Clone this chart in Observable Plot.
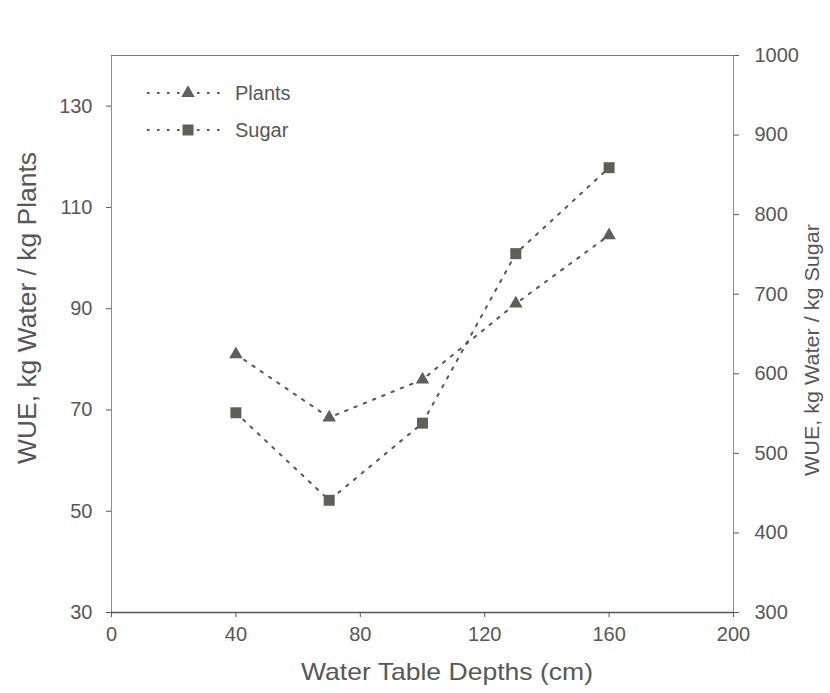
<!DOCTYPE html>
<html><head><meta charset="utf-8">
<script src="https://cdn.jsdelivr.net/npm/d3@7"></script>
<script src="https://cdn.jsdelivr.net/npm/@observablehq/plot@0.6"></script>
<style>
body{margin:0;background:#fff;}
</style></head><body><div id="chart"></div>
<script>
// ---- data ----
const depths = [40, 70, 100, 130, 160];
const plants = [81, 68.5, 76, 91, 104.5];
const sugar = [551, 441, 538, 751, 859];
const xTicks = [0, 40, 80, 120, 160, 200];
const leftTicks = [30, 50, 70, 90, 110, 130];
const rightTicks = [300, 400, 500, 600, 700, 800, 900, 1000];
const xDomain = [0, 200];
const leftDomain = [30, 140];
const rightDomain = [300, 1000];
const seriesNames = ["Plants", "Sugar"];
const xTitle = "Water Table Depths (cm)";
const leftTitle = "WUE, kg Water / kg Plants";
const rightTitle = "WUE, kg Water / kg Sugar";

// map right-axis values onto the left (primary) y scale
const toLeft = d3.scaleLinear(rightDomain, leftDomain);
const plantsData = depths.map((x, i) => ({x, y: plants[i]}));
const sugarData = depths.map((x, i) => ({x, y: toLeft(sugar[i])}));

const ink = "#575757";
const markerFill = "#5f5f58";
const dash = "2.5,7.5";
const triR = 5.0, sqR = 6.2;
const font = "'Liberation Sans', Arial, sans-serif";

const chart = Plot.plot({
  width: 830, height: 693,
  marginLeft: 111, marginRight: 97, marginTop: 55, marginBottom: 81,
  style: {fontFamily: font, fontSize: "20px", color: ink, background: "#fff"},
  x: {domain: xDomain},
  y: {domain: leftDomain},
  marks: [
    Plot.frame({stroke: "#8c8c8c", strokeWidth: 1}),
    Plot.ruleY([leftDomain[1]], {stroke: "#777", strokeWidth: 1.2}),
    Plot.ruleY([leftDomain[0]], {stroke: "#555", strokeWidth: 1.6}),
    Plot.axisX(xTicks, {tickSize: 5, tickPadding: 9, label: null, stroke: ink, fill: ink, fontSize: 20}),
    Plot.axisY(leftTicks, {anchor: "left", tickSize: 5, tickPadding: 14, label: null, stroke: ink, fill: ink, fontSize: 20}),
    Plot.axisY(rightTicks.map(toLeft), {anchor: "right", tickSize: 5, tickPadding: 16, label: null, stroke: ink, fill: ink, fontSize: 20,
      tickFormat: d => String(Math.round(toLeft.invert(d)))}),
    Plot.line(plantsData, {x: "x", y: "y", stroke: ink, strokeWidth: 2, strokeDasharray: dash}),
    Plot.line(sugarData, {x: "x", y: "y", stroke: ink, strokeWidth: 2, strokeDasharray: dash}),
    Plot.dot(plantsData, {x: "x", y: "y", symbol: "triangle", r: triR, fill: markerFill, stroke: "none"}),
    Plot.dot(sugarData, {x: "x", y: "y", symbol: "square", r: sqR, fill: markerFill, stroke: "none"})
  ]
});

const svg = d3.select(chart);

// ---- axis titles ----
function title(txt, x, y, rot, size, len) {
  const t = svg.append("text")
    .attr("transform", `translate(${x},${y}) rotate(${rot})`)
    .attr("text-anchor", "middle").attr("dy", "0.35em")
    .attr("fill", ink).attr("font-family", font).attr("font-size", size)
    .text(txt);
  if (len) t.attr("textLength", len).attr("lengthAdjust", "spacingAndGlyphs");
}
title(xTitle, 447, 672, 0, 24, 292);
title(leftTitle, 27, 308, -90, 25, 312);
title(rightTitle, 812, 350, -90, 21, 252);

// ---- legend (inside the frame, top-left) ----
const lg = svg.append("g").attr("transform", "translate(147,93)");
const symbols = [d3.symbolTriangle, d3.symbolSquare];
const radii = [triR, sqR];
seriesNames.forEach((name, i) => {
  const row = lg.append("g").attr("transform", `translate(0,${i * 37})`);
  row.append("line").attr("x1", 0).attr("x2", 78).attr("y1", 0).attr("y2", 0)
    .attr("stroke", ink).attr("stroke-width", 2).attr("stroke-dasharray", dash);
  row.append("path").attr("d", d3.symbol(symbols[i], Math.PI * radii[i] * radii[i])())
    .attr("transform", "translate(41,0)").attr("fill", markerFill);
  row.append("text").attr("x", 88).attr("y", 0).attr("dy", "0.35em")
    .attr("text-anchor", "start").attr("fill", ink).attr("font-family", font)
    .attr("font-size", 20).text(name);
});

document.getElementById("chart").appendChild(chart);
</script></body></html>
